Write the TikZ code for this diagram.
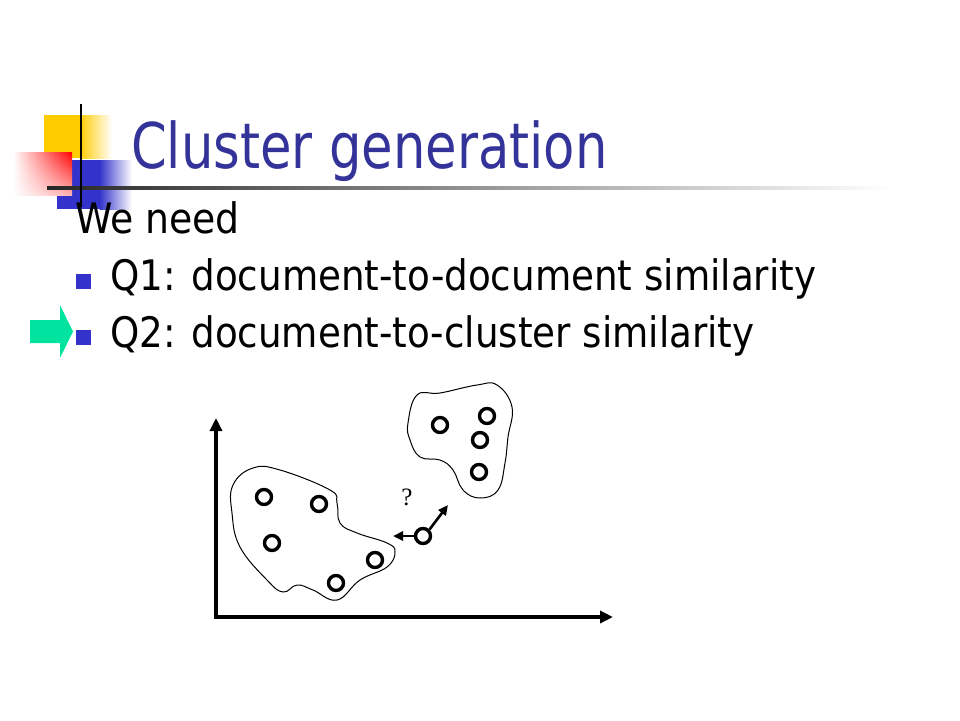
\documentclass[tikz,border=0pt]{standalone}
\usepackage{fontspec}
\setmainfont{DejaVu Sans Condensed}
\newfontfamily\qfont{Liberation Serif}
\usetikzlibrary{arrows.meta,shadings}
\definecolor{titleblue}{RGB}{51,51,153}
\definecolor{bulletblue}{RGB}{51,51,204}
\definecolor{sqyellow}{RGB}{255,204,0}
\definecolor{sqblue}{RGB}{51,51,204}
\definecolor{sqred}{RGB}{255,0,0}
\definecolor{arrgreen}{RGB}{0,228,160}
\tikzset{
  pt/.style={circle,draw,line width=3.4pt,minimum size=15pt,inner sep=0pt},
  bodytext/.style={anchor=base west,inner sep=0pt,font=\fontsize{42}{42}\selectfont},
  bulletsq/.style={fill=bulletblue,draw=none,minimum size=15pt,inner sep=0pt},
  blob/.style={line width=1pt},
  axis/.style={line width=4pt,{Triangle[length=13pt,width=12pt]}-{Triangle[length=13pt,width=12pt]}},
  move/.style={line width=2.6pt,-{Triangle[length=10pt,width=9pt]}}
}
\begin{document}
\begin{tikzpicture}[x=1pt,y=-1pt]
\useasboundingbox (0,0) rectangle (960,720);
% decorative squares
\fill[sqyellow] (44,115) rectangle (80,158);
\shade[left color=sqyellow,right color=white] (79.5,115) rectangle (112,158);
\fill[sqblue] (57,160) rectangle (100,209);
\shade[left color=sqblue,right color=white] (99.5,160) rectangle (132,209);
\shade[upper right=sqred,upper left=white,lower left=white,lower right=sqred!30!white] (13,152) rectangle (72,195);
% lines
\shade[left color=black!85,right color=white] (47,186.5) rectangle (890,189.5);
\draw[line width=2.5pt] (81,104) -- (81,207);
% title
\node[anchor=base west,inner sep=0pt,text=titleblue,font=\fontsize{63}{63}\selectfont] (title) at (131,168) {\scalebox{0.903}[1]{Cluster generation}};
% body
\node[bodytext] (we) at (75,233) {We need};
\node[bulletsq] (b1) at (83.5,281) {};
\node[bodytext] (q1) at (110,290) {\scalebox{0.986}[1]{Q1: document-to-document similarity}};
\node[bulletsq] (b2) at (83.5,337) {};
\node[bodytext] (q2) at (110,347) {\scalebox{0.985}[1]{Q2: document-to-cluster similarity}};
% green arrow
\fill[arrgreen] (30,320) -- (60,320) -- (60,305) -- (73,331.5) -- (60,358) -- (60,343) -- (30,343) -- cycle;
% axes
\coordinate (ytip) at (216,418);
\coordinate (orig) at (216,617);
\coordinate (xtip) at (613,617);
\draw[axis] (ytip) -- (orig) -- (xtip);
% blobs
\draw[blob] plot[smooth cycle,tension=0.7] coordinates {(233,485) (253,468) (280,470) (330,490) (337,503) (340,523) (357,533) (387,543) (395,552) (387,567) (360,580) (337,600) (313,590) (297,585) (283,592) (267,580) (240,547) (232,513)};
\draw[blob] plot[smooth cycle,tension=0.7] coordinates {(408,423) (417,395) (440,393) (477,385) (497,385) (512,407) (508,437) (505,463) (498,490) (480,498) (463,490) (453,470) (440,460) (420,457) (410,440)};
% points
\node[pt] (a1) at (264,497) {};
\node[pt] (a2) at (319,504) {};
\node[pt] (a3) at (272,543) {};
\node[pt] (a4) at (375,560) {};
\node[pt] (a5) at (336,583) {};
\node[pt] (c1) at (440,425) {};
\node[pt] (c2) at (487,416) {};
\node[pt] (c3) at (480,440) {};
\node[pt] (c4) at (479,472) {};
\node[pt] (m) at (423,536) {};
\coordinate (lefttip) at (393,536);
\coordinate (uptip) at (448,505);
\draw[move] (m.west) -- (lefttip);
\draw[move] (m.north east) -- (uptip);
\node[font=\qfont\fontsize{25}{25}\selectfont,inner sep=0pt] (q) at (407,497) {?};
\end{tikzpicture}
\end{document}
